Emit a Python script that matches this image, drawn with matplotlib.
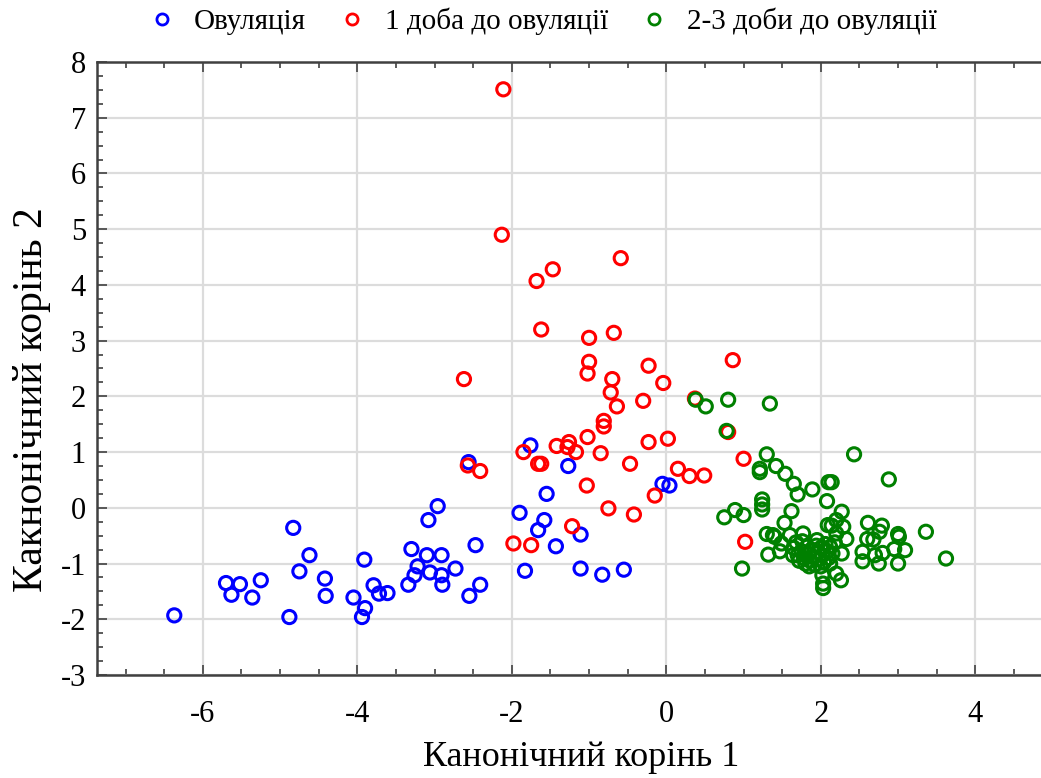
import numpy as np
import matplotlib
matplotlib.use("Agg")
import matplotlib.pyplot as plt
from matplotlib.ticker import MultipleLocator
from matplotlib.lines import Line2D

# Овуляція
blue_x = [-6.37, -5.70, -5.63, -5.52, -5.36, -5.25, -4.83, -4.75, -4.62, -4.88,
          -4.42, -4.41, -4.05, -3.94, -3.90, -3.91, -3.79, -3.72, -3.61, -3.34,
          -3.26, -3.30, -3.22, -3.10, -3.06, -3.08, -2.96, -2.91, -2.91, -2.90,
          -2.73, -2.47, -2.41, -2.55, -2.56, -1.76, -1.27, -1.55, -1.90, -1.58,
          -1.66, -1.11, -0.05, 0.04, -1.43, -1.83, -1.11, -0.83, -0.55]
blue_y = [-1.93, -1.35, -1.56, -1.37, -1.61, -1.30, -0.36, -1.14, -0.85, -1.96,
          -1.27, -1.58, -1.61, -1.96, -1.80, -0.93, -1.39, -1.54, -1.53, -1.38,
          -1.21, -0.74, -1.05, -0.85, -1.16, -0.22, 0.03, -0.85, -1.21, -1.38,
          -1.09, -0.67, -1.38, -1.58, 0.82, 1.12, 0.75, 0.25, -0.09, -0.22,
          -0.40, -0.48, 0.43, 0.40, -0.69, -1.13, -1.09, -1.20, -1.11]

# 1 доба до овуляції
red_x = [-2.11, -2.13, -0.59, -1.47, -1.68, -1.62, -1.00, -0.68, -2.62, -1.00,
         -1.02, -0.23, 0.86, -0.70, -0.72, -0.04, -0.64, -0.30, 0.37, -0.81,
         -0.81, -1.02, -1.26, -1.28, -1.17, -1.42, -0.85, -0.23, 0.02, -1.85,
         -1.66, -1.62, -0.47, -1.03, 0.15, 0.30, 0.49, -0.15, -0.75, -0.42,
         -1.22, -1.98, -1.75, 1.00, 1.02, 0.80, -2.41, -2.57]
red_y = [7.51, 4.90, 4.48, 4.28, 4.07, 3.20, 3.05, 3.14, 2.31, 2.62,
         2.41, 2.55, 2.65, 2.31, 2.07, 2.24, 1.82, 1.92, 1.96, 1.56,
         1.46, 1.27, 1.18, 1.09, 1.00, 1.11, 0.98, 1.18, 1.24, 1.00,
         0.79, 0.79, 0.79, 0.40, 0.70, 0.57, 0.58, 0.22, -0.01, -0.12,
         -0.33, -0.64, -0.67, 0.88, -0.61, 1.36, 0.66, 0.76]

# 2-3 доби до овуляції
green_x = [0.38, 0.51, 0.80, 1.34, 0.78, 1.30, 1.21, 1.21, 1.42, 1.54,
           1.65, 1.70, 1.89, 2.10, 2.14, 2.43, 2.88, 2.08, 2.27, 1.24,
           1.24, 1.24, 0.75, 0.89, 1.00, 1.62, 1.53, 1.30, 1.32, 0.98,
           1.40, 1.49, 1.47, 1.77, 1.60, 2.61, 2.79, 2.76, 3.00, 3.01,
           3.36, 3.62, 2.54, 2.54, 2.60, 2.68, 2.70, 2.75, 2.80, 2.95,
           3.09, 3.00, 2.27, 2.02, 2.03, 2.03, 2.20, 2.26, 2.14, 2.29,
           2.20, 2.33, 2.20, 1.38, 1.64, 2.09,
           1.65, 1.70, 1.72, 1.75, 1.78, 1.80, 1.82, 1.84, 1.86, 1.88,
           1.90, 1.92, 1.94, 1.96, 1.98, 2.00, 2.02, 2.04, 2.06, 2.08,
           2.10, 2.12, 2.15, 2.18, 1.68, 1.85, 2.00, 1.76, 1.95, 2.12]
green_y = [1.94, 1.82, 1.94, 1.87, 1.38, 0.96, 0.70, 0.64, 0.75, 0.61,
           0.43, 0.24, 0.33, 0.46, 0.46, 0.96, 0.51, 0.12, -0.07, 0.15,
           0.06, -0.03, -0.17, -0.04, -0.13, -0.06, -0.27, -0.47, -0.84, -1.09,
           -0.52, -0.64, -0.78, -0.46, -0.49, -0.27, -0.32, -0.43, -0.47, -0.52,
           -0.43, -0.91, -0.79, -0.96, -0.56, -0.57, -0.85, -1.00, -0.81, -0.74,
           -0.76, -1.00, -0.82, -1.21, -1.36, -1.44, -1.18, -1.30, -0.32, -0.34,
           -0.22, -0.56, -0.46, -0.49, -0.85, -0.31,
           -0.72, -0.85, -0.95, -0.78, -0.90, -1.00, -0.70, -0.82, -0.95, -0.75,
           -0.88, -1.02, -0.68, -0.80, -0.92, -0.72, -0.85, -0.98, -0.65, -0.78,
           -0.90, -0.70, -0.82, -0.62, -0.62, -1.05, -1.05, -0.60, -0.58, -1.00]

labels = ["Овуляція", "1 доба до овуляції", "2-3 доби до овуляції"]
colors = ["#0000ff", "#ff0000", "#008000"]

plt.rcParams["font.family"] = ["Liberation Serif", "DejaVu Serif"]
plt.rcParams["axes.unicode_minus"] = False

fig = plt.figure(figsize=(10.41, 7.78), dpi=100)
ax = fig.add_axes([0.0932, 0.1324, 0.9068, 0.7879])

for xs, ys, c in zip([blue_x, red_x, green_x], [blue_y, red_y, green_y], colors):
    ax.scatter(xs, ys, s=90, facecolors="none", edgecolors=c, linewidths=2.2, zorder=3)

ax.set_xlim(-7.37, 4.85)
ax.set_ylim(-3, 8)
ax.xaxis.set_major_locator(MultipleLocator(2))
ax.xaxis.set_minor_locator(MultipleLocator(0.5))
ax.yaxis.set_major_locator(MultipleLocator(1))
ax.yaxis.set_minor_locator(MultipleLocator(0.25))
ax.grid(True, which="major", color="#dcdcdc", linewidth=1.6, zorder=0)
ax.set_axisbelow(True)

ax.tick_params(which="both", direction="in", top=True, right=False, color="#404040", width=1.2)
ax.tick_params(which="major", length=7, labelsize=22, pad=8)
ax.tick_params(which="minor", length=4)
ax.tick_params(axis="x", which="major", pad=18)
ax.spines["right"].set_visible(False)
for s in ["left", "bottom", "top"]:
    ax.spines[s].set_color("#404040")
    ax.spines[s].set_linewidth(1.8)

ax.set_xlabel("Канонічний корінь 1", fontsize=26, va="center")
ax.xaxis.set_label_coords(0.558, 1 - 758 / 778, transform=fig.transFigure)
ax.set_ylabel("Какнонічний корінь 2", fontsize=30, va="center")
ax.yaxis.set_label_coords(32 / 1041, 0.486, transform=fig.transFigure)

handles = [Line2D([], [], marker="o", linestyle="none", markerfacecolor="none",
                  markeredgecolor=c, markeredgewidth=2.0, markersize=8) for c in colors]
fig.legend(handles, labels, loc="center", bbox_to_anchor=(0.519, 1 - 21 / 778), ncol=3,
           frameon=False, fontsize=21, handletextpad=0.5, columnspacing=1.0,
           borderpad=0, handlelength=1.2)

fig.savefig("out.png", dpi=100)
